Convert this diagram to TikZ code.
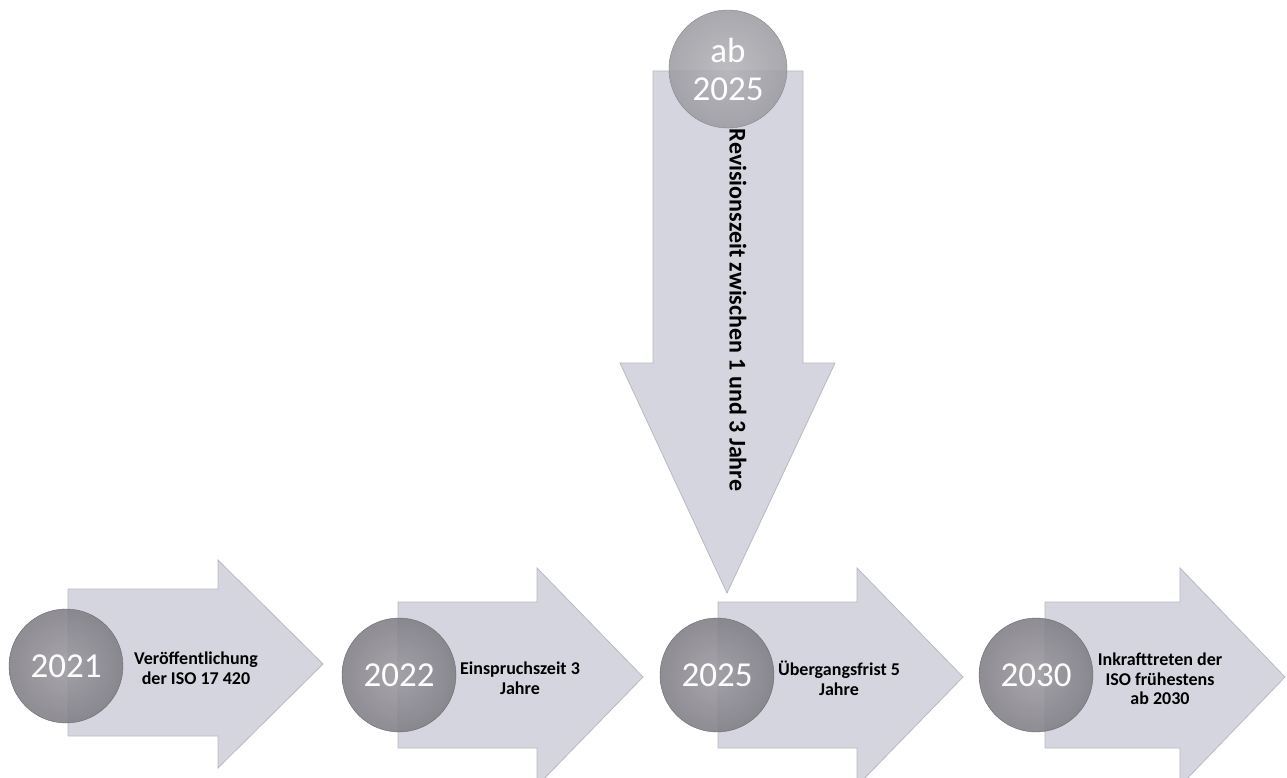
\documentclass[tikz,border=0pt]{standalone}
\usepackage{fontspec}
\setmainfont{Carlito}
\usetikzlibrary{calc}
\definecolor{arrowfill}{HTML}{D5D5DF}
\definecolor{arrowedge}{HTML}{B9B9C2}
\definecolor{ballout}{HTML}{7F7D84}
\definecolor{ballin}{HTML}{9C9AA0}
\definecolor{topout}{HTML}{9D9CA2}
\definecolor{topin}{HTML}{B4B3B8}
\tikzset{
  arrowshape/.style={fill=arrowfill, draw=arrowedge, line width=0.8pt, line join=miter},
  yearball/.style={circle, minimum size=114pt, inner sep=0pt, draw=ballout!85!black, line width=0.4pt,
    inner color=ballin, outer color=ballout, fill opacity=0.88, text opacity=1,
    text=white, font=\fontsize{35}{38}\selectfont, align=center},
  topball/.style={yearball, minimum size=118pt, inner color=topin, outer color=topout, draw=topout!85!black},
  steplabel/.style={font=\fontsize{18}{19.5}\selectfont\bfseries, align=center, text=black}
}
\begin{document}
\begin{tikzpicture}[x=1pt,y=-1pt]
\useasboundingbox (0,0) rectangle (1287,778);
\clip (0,0) rectangle (1287,778);
% vertical arrow
\draw[arrowshape] (653,71) -- (803,71) -- (803,363) -- (835,363) -- (727,593) -- (620,363) -- (653,363) -- cycle;
% horizontal arrows
\draw[arrowshape] (68,589) -- (218,589) -- (218,560) -- (323,664) -- (218,768) -- (218,736) -- (68,736) -- cycle;
\draw[arrowshape] (398,602) -- (537,602) -- (537,568) -- (643,677) -- (537,786) -- (537,748) -- (398,748) -- cycle;
\draw[arrowshape] (718,602) -- (857,602) -- (857,568) -- (963,677) -- (857,786) -- (857,748) -- (718,748) -- cycle;
\draw[arrowshape] (1045,602) -- (1180,602) -- (1180,568) -- (1285,677) -- (1180,786) -- (1180,748) -- (1045,748) -- cycle;
% balls
\node[topball] (ctop) at (728,69) {ab\\2025};
\node[yearball] (c1) at (66,666) {2021};
\node[yearball] (c2) at (399,675) {2022};
\node[yearball] (c3) at (717,675) {2025};
\node[yearball] (c4) at (1036,675) {2030};
% labels
\node[steplabel] (l1) at (196,668) {Veröffentlichung\\der ISO 17 420};
\node[steplabel] (l2) at (520,678) {Einspruchszeit 3\\Jahre};
\node[steplabel] (l3) at (839,678) {Übergangsfrist 5\\Jahre};
\node[steplabel] (l4) at (1160,679) {Inkrafttreten der\\ISO frühestens\\ab 2030};
\node[font=\fontsize{24}{28}\selectfont\bfseries, rotate=-90] (lv) at (738,310) {Revisionszeit zwischen 1 und 3 Jahre};
\end{tikzpicture}
\end{document}
